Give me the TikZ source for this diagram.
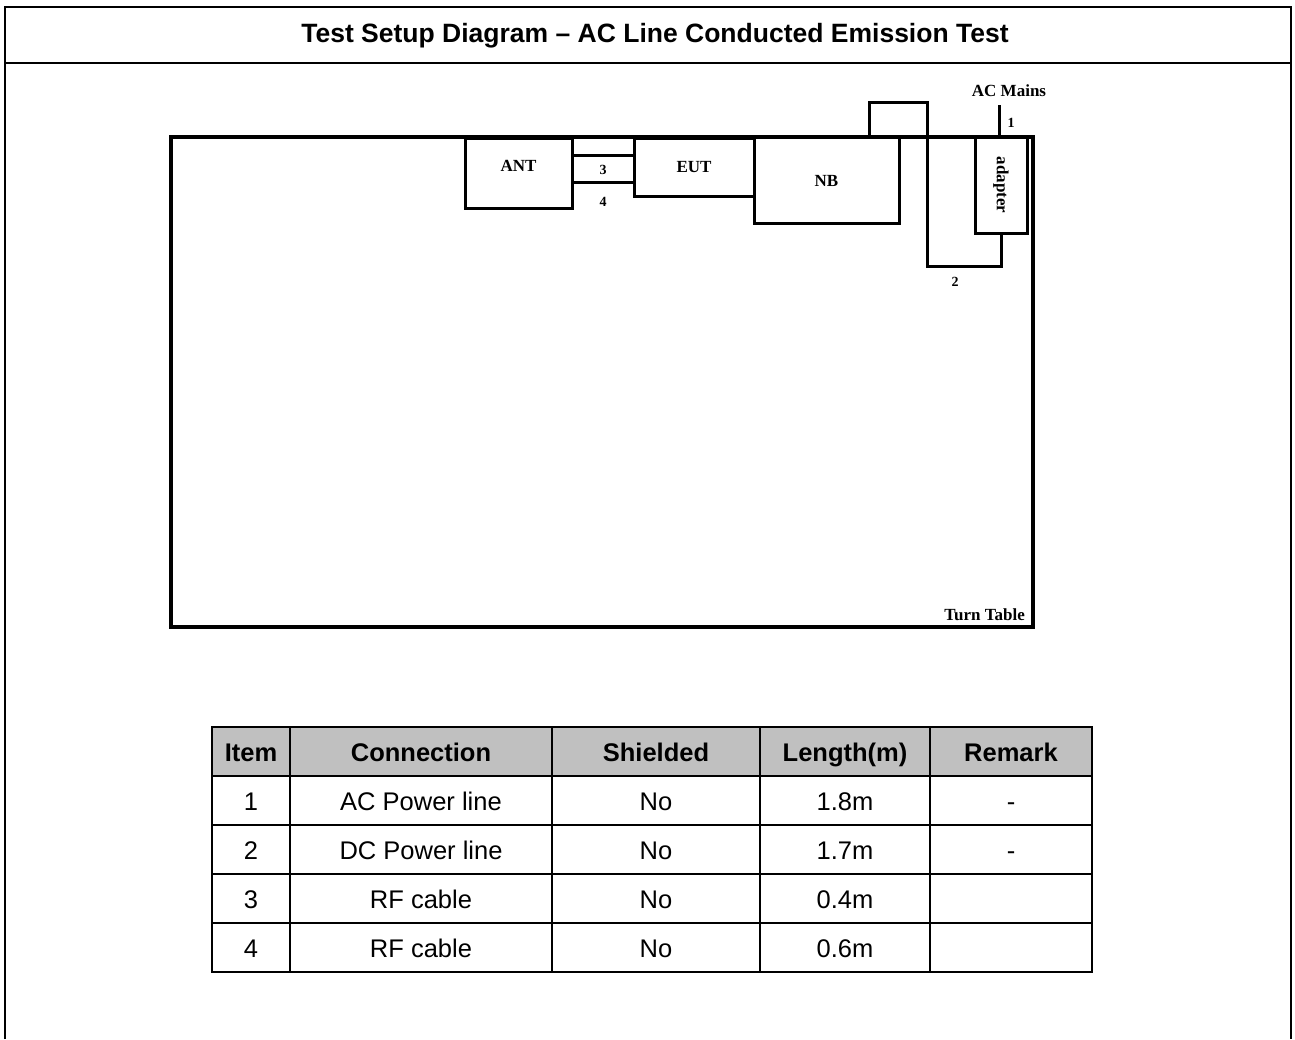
\documentclass[tikz,border=0pt]{standalone}
\usepackage{fontspec}
\setmainfont{Liberation Serif}
\newfontfamily\arial{Liberation Sans}
\usetikzlibrary{calc}
\definecolor{hdr}{RGB}{192,192,192}
\tikzset{
  frameline/.style={line width=2.5pt},
  tt/.style={line width=4pt},
  box/.style={draw, line width=3pt, rectangle, inner sep=0pt, font=\bfseries\fontsize{17}{17}\selectfont},
  cable/.style={line width=3pt},
  num/.style={font=\bfseries\fontsize{14}{14}\selectfont, inner sep=0pt},
  lbl/.style={font=\bfseries\fontsize{17}{17}\selectfont, inner sep=0pt},
  cell/.style={font=\arial\fontsize{25.5}{25.5}\selectfont, inner sep=0pt, text height=18pt, text depth=0pt},
  hcell/.style={font=\arial\bfseries\fontsize{25.5}{25.5}\selectfont, inner sep=0pt, text height=18pt, text depth=0pt},
  grid/.style={line width=2pt}
}
\begin{document}
\begin{tikzpicture}[x=1pt,y=-1pt]
\useasboundingbox (0,0) rectangle (1295,1039);
% outer frame
\coordinate (fl) at (5,1039);
\coordinate (fr) at (1291,1039);
\draw[frameline] (fl) -- (5,7) -- (1291,7) -- (fr);
\draw[frameline] (5,63) -- (1291,63);
\node[font=\arial\bfseries\fontsize{26.5}{26.5}\selectfont, inner sep=0pt, text height=19pt, text depth=0pt] (title) at (655,33) {Test Setup Diagram – AC Line Conducted Emission Test};

% turn table
\node[draw, tt, rectangle, minimum width=862pt, minimum height=490pt, inner sep=0pt] (table) at (602,382) {};
\node[lbl, anchor=south east] (ttl) at (1025,621) {Turn Table};

% boxes
\node[box, minimum width=107pt, minimum height=70pt, text depth=14pt] (ant) at (518.5,173) {ANT};
\node[box, minimum width=120pt, minimum height=58pt] (eut) at (694,167) {EUT};
\node[box, minimum width=145pt, minimum height=86pt] (nb) at (826.5,180.5) {NB};
\node[box, minimum width=52pt, minimum height=96pt] (adp) at (1001,185) {};
\node[lbl, rotate=-90] (adptxt) at (adp) {adapter};

% cables 3 & 4
\draw[cable] ($(ant.north east)+(0,19)$) -- ($(eut.north west)+(0,19)$);
\draw[cable] ($(ant.north east)+(0,46)$) -- ($(eut.north west)+(0,46)$);
\node[num] (n3) at (603,170) {3};
\node[num] (n4) at (603,202) {4};

% cable 2 (NB to adapter)
\draw[cable] (nb.north -| 869,0) -- (869,102) -- (927,102) -- (927,266) -- (adp.south |- 0,266) -- (adp.south);
\node[num] (n2) at (955,282) {2};

% cable 1 (AC mains)
\node[lbl] (acm) at (1009,91) {AC Mains};
\coordinate (acin) at (999,105);
\draw[cable] (acin) -- (acin |- adp.north);
\node[num] (n1) at (1011,123) {1};

% table
\fill[hdr] (212,727) rectangle (1092,776);
\foreach \y in {727,776,825,874,923,972} \draw[grid] (211,\y) -- (1093,\y);
\foreach \x in {212,290,552,760,930,1092} \draw[grid] (\x,727) -- (\x,972);
\node[hcell] (h1) at (251,752) {Item};
\node[hcell] (h2) at (421,752) {Connection};
\node[hcell] (h3) at (656,752) {Shielded};
\node[hcell] (h4) at (845,752) {Length(m)};
\node[hcell] (h5) at (1011,752) {Remark};
\node[cell] (r1a) at (251,801) {1};
\node[cell] (r1b) at (421,801) {AC Power line};
\node[cell] (r1c) at (656,801) {No};
\node[cell] (r1d) at (845,801) {1.8m};
\node[cell] (r1e) at (1011,801) {-};
\node[cell] (r2a) at (251,850) {2};
\node[cell] (r2b) at (421,850) {DC Power line};
\node[cell] (r2c) at (656,850) {No};
\node[cell] (r2d) at (845,850) {1.7m};
\node[cell] (r2e) at (1011,850) {-};
\node[cell] (r3a) at (251,899) {3};
\node[cell] (r3b) at (421,899) {RF cable};
\node[cell] (r3c) at (656,899) {No};
\node[cell] (r3d) at (845,899) {0.4m};
\node[cell] (r4a) at (251,948) {4};
\node[cell] (r4b) at (421,948) {RF cable};
\node[cell] (r4c) at (656,948) {No};
\node[cell] (r4d) at (845,948) {0.6m};
\end{tikzpicture}
\end{document}
